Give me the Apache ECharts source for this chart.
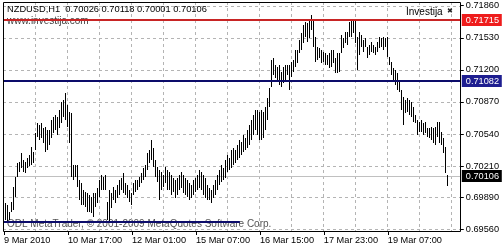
<!DOCTYPE html>
<html><head><meta charset="utf-8">
<script src="https://cdn.jsdelivr.net/npm/echarts@6/dist/echarts.min.js"></script>
<style>html,body{margin:0;padding:0;background:#fff}#c{width:502px;height:250px}</style>
</head><body><div id="c"></div>
<script>
const FONT = "'Liberation Sans',Arial,sans-serif";
const titleText = 'NZDUSD,H1  0.70026 0.70118 0.70001 0.70106';
const siteText = 'www.investija.com';
const indicatorText = 'Investija';
const copyrightText = 'ODL MetaTrader, \u00a9 2001-2009 MetaQuotes Software Corp.';

const slotCount = 229;
const xLabelIndex = [0, 32, 64, 96, 128, 160, 192];
const xLabelText = ['9 Mar 2010', '10 Mar 17:00', '12 Mar 01:00', '15 Mar 07:00', '16 Mar 15:00', '17 Mar 23:00', '19 Mar 07:00'];
const xGridIndex = [16, 32, 48, 64, 80, 96, 112, 128, 144, 160, 176, 192, 208, 224];
const yTicks = [0.71860, 0.71530, 0.71200, 0.70870, 0.70540, 0.70210, 0.69890, 0.69560];

const highs = [
0.69880,0.69828,0.69807,0.69735,0.69838,0.69993,0.70096,0.70240,0.70250,0.70343,
0.70271,0.70250,0.70292,0.70322,0.70405,0.70353,0.70549,0.70652,0.70631,0.70652,
0.70601,0.70611,0.70580,0.70580,0.70683,0.70714,0.70734,0.70714,0.70786,0.70868,
0.70889,0.70961,0.70837,0.70765,0.70755,0.70219,0.70219,0.70219,0.70065,0.70034,
0.69962,0.69941,0.69931,0.69910,0.69890,0.69931,0.69931,0.69983,0.70065,0.70116,
0.70096,0.70116,0.69838,0.69962,0.69931,0.69993,0.69962,0.70013,0.70065,0.70086,
0.70137,0.70034,0.70013,0.69962,0.69931,0.70034,0.70065,0.70065,0.70096,0.70137,
0.70189,0.70219,0.70343,0.70374,0.70477,0.70395,0.70271,0.70199,0.70168,0.70147,
0.70116,0.70199,0.70168,0.70147,0.70116,0.70086,0.70065,0.70086,0.70116,0.70147,
0.70116,0.70086,0.70065,0.70034,0.70013,0.70065,0.70086,0.70116,0.70168,0.70147,
0.70116,0.70086,0.70013,0.69983,0.69962,0.70013,0.70065,0.70116,0.70168,0.70219,
0.70189,0.70271,0.70322,0.70292,0.70374,0.70395,0.70374,0.70425,0.70477,0.70456,
0.70528,0.70498,0.70580,0.70631,0.70683,0.70734,0.70786,0.70786,0.70765,0.70786,
0.70765,0.70817,0.70910,0.71013,0.71301,0.71322,0.71249,0.71229,0.71249,0.71177,
0.71229,0.71249,0.71249,0.71249,0.71280,0.71301,0.71404,0.71404,0.71507,0.71579,
0.71661,0.71692,0.71682,0.71713,0.71764,0.71713,0.71538,0.71435,0.71425,0.71404,
0.71383,0.71373,0.71352,0.71373,0.71404,0.71404,0.71322,0.71373,0.71373,0.71558,
0.71528,0.71589,0.71589,0.71692,0.71713,0.71713,0.71713,0.71538,0.71589,0.71558,
0.71507,0.71528,0.71435,0.71455,0.71486,0.71455,0.71435,0.71486,0.71538,0.71528,
0.71538,0.71528,0.71538,0.71332,0.71280,0.71219,0.71198,0.71167,0.71095,0.70992,
0.70920,0.70889,0.70910,0.70889,0.70868,0.70817,0.70734,0.70683,0.70662,0.70683,
0.70652,0.70662,0.70601,0.70601,0.70611,0.70601,0.70611,0.70662,0.70662,0.70559,
0.70498,0.70405,0.70118];

const lows = [
0.69653,0.69653,0.69632,0.69653,0.69735,0.69756,0.69890,0.70096,0.70147,0.70189,
0.70147,0.70137,0.70189,0.70209,0.70219,0.70240,0.70374,0.70508,0.70477,0.70498,
0.70446,0.70353,0.70374,0.70425,0.70498,0.70549,0.70580,0.70528,0.70601,0.70652,
0.70714,0.70683,0.70611,0.70446,0.70096,0.70065,0.70096,0.69993,0.69859,0.69807,
0.69807,0.69787,0.69735,0.69735,0.69725,0.69684,0.69787,0.69828,0.69890,0.69962,
0.69962,0.69962,0.69653,0.69622,0.69777,0.69859,0.69828,0.69880,0.69910,0.69962,
0.69931,0.69910,0.69880,0.69838,0.69807,0.69910,0.69941,0.69962,0.69993,0.70034,
0.70065,0.70096,0.70168,0.70240,0.70271,0.70199,0.70096,0.70044,0.69859,0.69962,
0.69993,0.70034,0.69962,0.69962,0.69910,0.69941,0.69880,0.69910,0.69962,0.69983,
0.69931,0.69910,0.69890,0.69859,0.69880,0.69910,0.69941,0.69962,0.69983,0.69962,
0.69910,0.69880,0.69859,0.69859,0.69828,0.69880,0.69910,0.69962,0.70013,0.70044,
0.70065,0.70086,0.70147,0.70168,0.70189,0.70219,0.70240,0.70271,0.70292,0.70322,
0.70353,0.70374,0.70395,0.70425,0.70477,0.70528,0.70580,0.70528,0.70477,0.70477,
0.70498,0.70580,0.70683,0.70817,0.71023,0.71146,0.71116,0.71074,0.71043,0.71023,
0.71064,0.71095,0.71146,0.70992,0.71126,0.71177,0.71229,0.71270,0.71373,0.71404,
0.71476,0.71538,0.71486,0.71528,0.71610,0.71435,0.71280,0.71301,0.71322,0.71270,
0.71280,0.71249,0.71249,0.71219,0.71229,0.71270,0.71167,0.71167,0.71177,0.71373,
0.71425,0.71476,0.71455,0.71538,0.71538,0.71579,0.71476,0.71198,0.71352,0.71435,
0.71383,0.71435,0.71322,0.71352,0.71383,0.71373,0.71352,0.71383,0.71425,0.71435,
0.71404,0.71435,0.71332,0.71249,0.71146,0.71074,0.71043,0.70992,0.70971,0.70786,
0.70631,0.70755,0.70765,0.70734,0.70714,0.70662,0.70652,0.70528,0.70559,0.70559,
0.70528,0.70549,0.70508,0.70498,0.70477,0.70446,0.70425,0.70508,0.70446,0.70425,
0.70343,0.70137,0.70001];

const levelValues = [0.71715, 0.71082, 0.70106];
const levelStyles = [
  {line: '#c82424', width: 2, box: '#ee1c1c'},
  {line: '#0c0c6a', width: 2, box: '#1e1e90'},
  {line: '#c0c0c0', width: 1, box: '#000000'}
];
const lowerLineValue = 0.69635;
const lowerLineFrom = 0, lowerLineTo = 118;

const categories = Array.from({length: slotCount}, (_, i) => {
  const k = xLabelIndex.indexOf(i);
  return k >= 0 ? xLabelText[k] : '';
});

const chart = echarts.init(document.getElementById('c'), null, {renderer: 'canvas'});
chart.setOption({
  animation: false,
  backgroundColor: '#ffffff',
  grid: {left: 3, top: 2, width: 458, height: 230, show: false},
  xAxis: {
    type: 'category', data: categories, boundaryGap: true,
    axisLine: {show: false},
    axisTick: {show: true, alignWithLabel: true, length: 3, interval: (i) => xLabelIndex.includes(i), lineStyle: {color: '#000'}},
    axisLabel: {interval: (i) => xLabelIndex.includes(i), hideOverlap: false, align: 'left', margin: 4, fontSize: 9.2, color: '#000', fontFamily: FONT},
    splitLine: {show: false}
  },
  yAxis: {
    type: 'value', position: 'right', min: 0.69532, max: 0.71898, scale: true,
    axisLine: {show: false},
    splitLine: {show: false},
    axisTick: {show: true, length: 3, customValues: yTicks, lineStyle: {color: '#000'}},
    axisLabel: {customValues: yTicks, hideOverlap: false, formatter: (v) => v.toFixed(5), margin: 5, fontSize: 9.2, color: '#000', fontFamily: FONT}
  },
  graphic: [
    {type: 'rect', shape: {x: 3.5, y: 2.5, width: 457, height: 229}, style: {fill: 'none', stroke: '#000', lineWidth: 1}, z: 100, silent: true},
    {type: 'text', left: 7, top: 5, style: {text: titleText, font: '9.3px ' + FONT, fill: '#000'}, z: 50},
    {type: 'text', left: 7, top: 16, style: {text: siteText, font: '10px ' + FONT, fill: '#404040'}, z: 0},
    {type: 'text', left: 406, top: 7, style: {text: indicatorText, font: '10px ' + FONT, fill: '#000'}, z: 50},
    {type: 'text', left: 447, top: 8, style: {text: '\u2716', font: 'bold 7px DejaVu Sans', fill: '#222'}, z: 50},
    {type: 'text', left: 7, top: 219, style: {text: copyrightText, font: '10px ' + FONT, fill: '#555'}, z: 0}
  ],
  series: [
    {
      type: 'custom', name: 'hgrid', z: 1, silent: true,
      data: yTicks.map(v => [0, v]),
      renderItem: (params, api) => {
        const cs = params.coordSys;
        const y = Math.round(api.coord([0, api.value(1)])[1]) + 0.5;
        return {type: 'line', shape: {x1: cs.x, y1: y, x2: cs.x + cs.width, y2: y}, style: {stroke: '#b4b4b4', lineWidth: 1, lineDash: [3, 3]}};
      }
    },
    {
      type: 'custom', name: 'vgrid', z: 1, silent: true,
      data: xGridIndex.map(i => [i, yTicks[0]]),
      renderItem: (params, api) => {
        const cs = params.coordSys;
        const x = Math.floor(api.coord([api.value(0), api.value(1)])[0]) + 0.5;
        return {type: 'line', shape: {x1: x, y1: cs.y, x2: x, y2: cs.y + cs.height}, style: {stroke: '#b4b4b4', lineWidth: 1, lineDash: [3, 3]}};
      }
    },
    {
      type: 'custom', name: 'bid', z: 2, silent: true,
      data: [[0, levelValues[2]]],
      renderItem: (params, api) => {
        const cs = params.coordSys;
        const y = Math.round(api.coord([0, api.value(1)])[1]) + 0.5;
        return {type: 'line', shape: {x1: cs.x, y1: y, x2: cs.x + cs.width, y2: y}, style: {stroke: levelStyles[2].line, lineWidth: 1}};
      }
    },
    {
      type: 'custom', name: 'NZDUSD', z: 3, silent: true,
      data: highs.map((h, i) => [i, lows[i], h]),
      renderItem: (params, api) => {
        const top = api.coord([api.value(0), api.value(2)]);
        const bot = api.coord([api.value(0), api.value(1)]);
        const y0 = Math.round(top[1]);
        const h = Math.max(1, Math.round(bot[1]) - y0);
        return {type: 'rect', shape: {x: Math.floor(top[0]), y: y0, width: 1, height: h}, style: {fill: '#000'}};
      }
    },
    {
      type: 'line', name: 'lower', z: 4, silent: true, symbol: 'none',
      data: [[lowerLineFrom, lowerLineValue], [lowerLineTo, lowerLineValue]],
      lineStyle: {color: '#0c0c6a', width: 2}
    },
    {
      type: 'custom', name: 'levels', z: 5, silent: true, clip: false,
      data: levelValues.map(v => [0, v]),
      renderItem: (params, api) => {
        const cs = params.coordSys;
        const st = levelStyles[params.dataIndex];
        const v = api.value(1);
        const yy = Math.round(api.coord([0, v])[1]);
        const children = [];
        if (st.width === 2) {
          children.push({type: 'rect', shape: {x: cs.x, y: yy - 1, width: cs.width, height: 2}, style: {fill: st.line}});
        }
        children.push({type: 'rect', shape: {x: cs.x + cs.width + 1, y: yy - 6, width: 40, height: 12}, style: {fill: st.box}});
        children.push({type: 'text', x: cs.x + cs.width + 5, y: yy, style: {text: v.toFixed(5), fill: '#fff', font: '9.2px ' + FONT, verticalAlign: 'middle'}});
        return {type: 'group', children};
      }
    }
  ]
});
</script>
</body></html>
